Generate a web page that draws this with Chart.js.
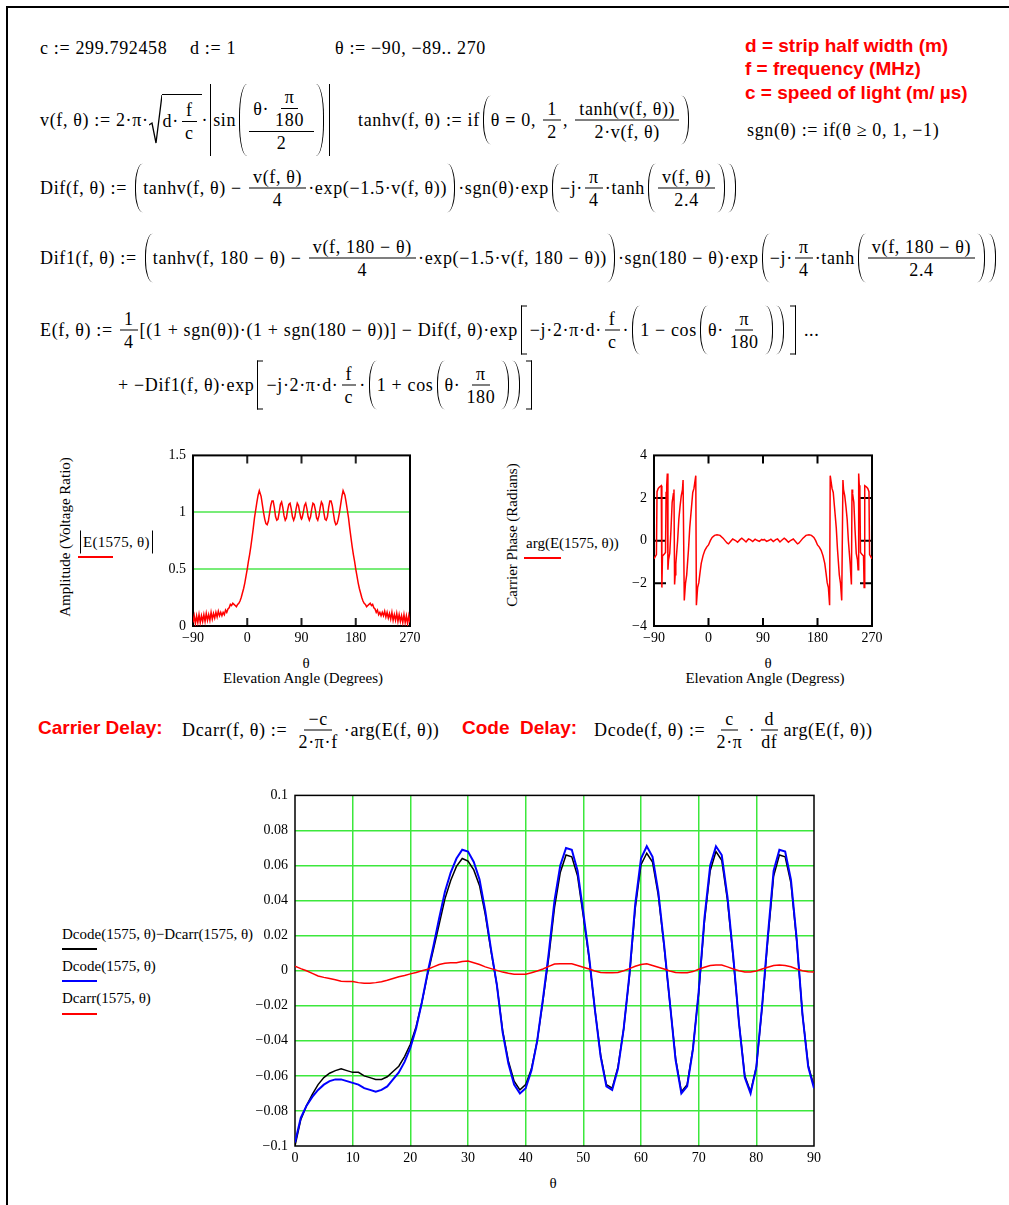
<!DOCTYPE html>
<html>
<head>
<meta charset="utf-8">
<script src="https://cdn.jsdelivr.net/npm/chart.js@4.4.0/dist/chart.umd.min.js"></script>
<style>
  body { margin: 0; background: #fff; }
  #page { position: relative; width: 1009px; height: 1205px; overflow: hidden; font-family: 'Liberation Serif', 'Times New Roman', serif; color: #000; }
  .frame { position: absolute; left: 6px; top: 6px; width: 1100px; height: 1300px; border-left: 2px solid #000; border-top: 2px solid #000; }
  canvas { position: absolute; }
  .eq { position: absolute; font-size: 18px; letter-spacing: 0.65px; white-space: nowrap; transform: translateY(-50%); display: flex; align-items: center; }
  .g { display: inline-flex; align-items: center; }
  .t { white-space: pre; }
  .fr { display: inline-flex; flex-direction: column; align-items: center; margin: 0 2px; }
  .fr .nu { border-bottom: 1.2px solid #000; padding: 0 4px 1px; line-height: 20px; display: flex; justify-content: center; }
  .fr .de { padding: 1px 4px 0; line-height: 20px; display: flex; justify-content: center; }
  .lp, .rp { align-self: stretch; width: 7px; margin-top: -3px; margin-bottom: -3px; }
  .lp { border-left: 1.3px solid #000; border-radius: 9px 0 0 9px / 50% 0 0 50%; margin-left: 3px; }
  .rp { border-right: 1.3px solid #000; border-radius: 0 9px 9px 0 / 0 50% 50% 0; margin-right: 3px; }
  .ab { align-self: stretch; border-left: 1.3px solid #000; margin: -3px 2px; }
  .lb, .rb { align-self: stretch; width: 5px; margin-top: -3px; margin-bottom: -3px; border: 1.3px solid #000; }
  .lb { border-right: 0; margin-left: 3px; margin-right: 3px; }
  .rb { border-left: 0; margin-left: 3px; margin-right: 3px; }
  .rad { align-self: stretch; width: 13px; margin-top: -2px; }
  .sqc { border-top: 1.3px solid #000; padding: 3px 2px 0 1px; margin-top: -2px; }
  .red { position: absolute; font-family: 'Liberation Sans', Arial, sans-serif; font-weight: bold; color: #ff0000; font-size: 19px; white-space: nowrap; transform: translateY(-50%); }
  .lbl { position: absolute; font-size: 15px; white-space: nowrap; transform: translate(-50%, -50%); }
  .lbl.l { transform: translateY(-50%); }
  .rot { transform: translate(-50%, -50%) rotate(-90deg); }
  .key { position: absolute; height: 2px; }
</style>
</head>
<body>
<div id="page">
  <div class="frame"></div>
  <div id="eqs"></div>

  <div class="red" style="left:745px;top:46px">d = strip half width (m)</div>
  <div class="red" style="left:745px;top:69px">f = frequency (MHz)</div>
  <div class="red" style="left:745px;top:93px">c = speed of light (m/ µs)</div>
  <div class="red" style="left:38px;top:728px">Carrier Delay:</div>
  <div class="red" style="left:462px;top:728px">Code&nbsp; Delay:</div>

  <!-- amplitude plot labels -->
  <div class="lbl rot" style="left:65px;top:537px">Amplitude (Voltage Ratio)</div>
  <div id="ampKey" class="eq" style="left:78px;top:542px;font-size:15px;letter-spacing:0.3px"></div>
  <div class="key" style="left:78px;top:556px;width:35px;background:#ff0000"></div>
  <div class="lbl" style="left:306px;top:663px">θ</div>
  <div class="lbl" style="left:303px;top:678px">Elevation Angle (Degrees)</div>

  <!-- phase plot labels -->
  <div class="lbl rot" style="left:512px;top:535px">Carrier Phase (Radians)</div>
  <div class="lbl l" style="left:526px;top:543px">arg(E(1575, θ))</div>
  <div class="key" style="left:524px;top:557px;width:37px;background:#ff0000"></div>
  <div class="lbl" style="left:768px;top:663px">θ</div>
  <div class="lbl" style="left:765px;top:678px">Elevation Angle (Degress)</div>

  <!-- delay plot labels -->
  <div class="lbl l" style="left:62px;top:934px">Dcode(1575, θ)−Dcarr(1575, θ)</div>
  <div class="key" style="left:62px;top:948px;width:35px;background:#000"></div>
  <div class="lbl l" style="left:62px;top:966px">Dcode(1575, θ)</div>
  <div class="key" style="left:62px;top:980px;width:35px;background:#0000ff"></div>
  <div class="lbl l" style="left:62px;top:998px">Dcarr(1575, θ)</div>
  <div class="key" style="left:62px;top:1013px;width:35px;background:#ff0000"></div>
  <div class="lbl" style="left:553px;top:1183px">θ</div>

  <canvas id="amp" width="275" height="210" style="left:150px;top:440px"></canvas>
  <canvas id="phase" width="275" height="210" style="left:612px;top:440px"></canvas>
  <canvas id="delay" width="600" height="400" style="left:235px;top:780px"></canvas>
</div>

<script>
// |E(1575, θ)|
const thetaAmp = [-90,-88,-86,-84,-82,-80,-78,-76,-74,-72,-70,-68,-66,-64,-62,-60,-58,-56,-54,-52,-50,-48,-46,-44,-42,-40,-38,-36,-34,-32,-30,-28,-26,-24,-22,-20,-18,-16,-14,-12,-10,-8,-6,-4,-2,
  0,2,4,6,8,10,12,14,16,18,20,21,23,25,27,29,31,33,35,37,39,41,43,45,47,49,51,53,55,57,59,61,63,65,67,69,71,73,75,77,79,81,83,85,87,89,90,
  91,93,95,97,99,101,103,105,107,109,111,113,115,117,119,121,123,125,127,129,131,133,135,137,139,141,143,145,147,149,151,153,155,157,159,160,162,164,166,168,170,172,174,176,178,
  180,182,184,186,188,190,192,194,196,198,200,202,204,206,208,210,212,214,216,218,220,222,224,226,228,230,232,234,236,238,240,242,244,246,248,250,252,254,256,258,260,262,264,266,268,270];
const ampE = [0.03,0.09,0.02,0.09,0.03,0.10,0.03,0.09,0.04,0.10,0.04,0.11,0.05,0.10,0.05,0.12,0.06,0.11,0.07,0.12,0.08,0.13,0.09,0.12,0.09,0.12,0.10,0.14,0.12,0.15,0.16,0.19,0.18,0.20,0.19,0.18,0.17,0.19,0.20,0.22,0.25,0.29,0.33,0.38,0.44,
  0.50,0.57,0.63,0.70,0.78,0.86,0.95,1.02,1.09,1.15,1.19,1.19,1.14,1.07,1.00,0.94,0.90,0.89,0.92,0.99,1.06,1.10,1.10,1.04,0.96,0.93,0.94,1.00,1.07,1.09,1.04,0.97,0.93,0.95,1.02,1.07,1.08,1.03,0.96,0.93,0.96,1.03,1.08,1.06,1.00,0.95,0.94,
  0.95,1.00,1.06,1.08,1.03,0.96,0.93,0.96,1.03,1.08,1.07,1.02,0.95,0.93,0.97,1.04,1.09,1.07,1.00,0.94,0.93,0.96,1.04,1.10,1.10,1.06,0.99,0.92,0.89,0.90,0.94,1.00,1.07,1.14,1.19,1.19,1.15,1.09,1.02,0.95,0.86,0.78,0.70,0.63,0.57,
  0.50,0.44,0.38,0.33,0.29,0.25,0.22,0.20,0.19,0.17,0.18,0.19,0.20,0.18,0.19,0.16,0.15,0.12,0.14,0.10,0.12,0.09,0.12,0.09,0.13,0.08,0.12,0.07,0.11,0.06,0.12,0.05,0.10,0.05,0.11,0.04,0.10,0.04,0.09,0.03,0.10,0.03,0.09,0.02,0.09,0.03];
const ampXTicks = [-90, 0, 90, 180, 270];
const ampXLabels = ['−90', '0', '90', '180', '270'];
const ampYTicks = [0, 0.5, 1, 1.5];
const ampYLabels = ['0', '0.5', '1', '1.5'];

// arg(E(1575, θ))
const thetaPhase = [-90,-88,-86,-85,-83,-81,-78,-77,-76,-73,-71,-70,-69,-68,-67,-66,-64,-62,-60,-58,-57,-56,-55,-54,-51,-49,-47,-45,-43,-42,-40,-38,-36,-33,-31,-28,-26,-24,-21,-20,-18,-16,-14,-12,-9,-6,-3,
  0,3,6,10,14,19,24,28,31,33,36,40,44,48,52,55,59,62,66,69,73,77,80,84,88,90,
  92,96,100,103,107,111,114,118,121,125,128,132,136,140,144,147,149,152,156,161,166,170,174,177,
  180,183,186,189,192,194,196,198,200,201,204,206,208,211,213,216,218,220,222,223,225,227,229,231,234,235,236,237,238,240,242,244,246,247,248,249,250,251,253,256,257,258,261,263,265,266,268,270];
const argE = [-0.85,-0.75,-0.65,2.30,2.45,2.52,2.58,-2.20,-0.72,-0.62,-0.55,2.26,2.60,3.15,-1.36,-0.90,-0.60,0.50,1.80,2.20,2.40,-2.05,-1.60,-1.10,0.00,1.00,1.60,2.10,2.40,2.85,-2.80,-2.00,-1.60,-0.40,0.60,1.60,2.26,2.45,3.05,-3.03,-2.20,-1.97,-1.50,-1.06,-0.70,-0.45,-0.30,
  -0.20,0.00,0.15,0.25,0.28,0.25,0.12,-0.02,-0.12,-0.15,-0.05,0.08,0.02,-0.07,0.05,0.12,0.02,-0.06,0.08,0.05,-0.04,0.07,0.02,-0.03,0.06,0.03,
  0.06,-0.03,0.02,0.07,-0.04,0.05,0.08,-0.06,0.02,0.12,0.05,-0.07,0.02,0.08,-0.05,-0.15,-0.12,-0.02,0.12,0.25,0.28,0.25,0.15,0.00,
  -0.20,-0.30,-0.45,-0.70,-1.06,-1.50,-1.97,-2.20,-3.03,3.05,2.45,2.26,1.60,0.60,-0.40,-1.60,-2.00,-2.80,2.85,2.40,2.10,1.60,1.00,0.00,-1.10,-1.60,-2.05,2.40,2.20,1.80,0.50,-0.60,-0.90,-1.36,3.15,2.60,2.26,-0.55,-0.62,-0.72,-2.20,2.58,2.52,2.45,2.30,-0.65,-0.75,-0.85];
const phaseYTicks = [-4, -2, 0, 2, 4];
const phaseYLabels = ['−4', '−2', '0', '2', '4'];

// Dcode, Dcarr and their difference for θ = 0..90
const thetaDelay = [0,1,2,3,4,5,6,7,8,9,10,11,12,13,14,15,16,17,18,19,20,21,22,23,24,25,26,27,28,29,30,31,32,33,34,35,36,37,38,39,40,41,42,43,44,45,
  46,47,48,49,50,51,52,53,54,55,56,57,58,59,60,61,62,63,64,65,66,67,68,69,70,71,72,73,74,75,76,77,78,79,80,81,82,83,84,85,86,87,88,89,90];
const dcodeMinusDcarr = [-0.100,-0.085,-0.077,-0.0705,-0.065,-0.061,-0.0585,-0.057,-0.056,-0.057,-0.058,-0.058,-0.060,-0.061,-0.062,-0.062,-0.0605,-0.0575,-0.0545,-0.049,
  -0.042,-0.032,-0.018,-0.002,0.012,0.0265,0.041,0.0515,0.0595,0.064,0.0625,0.0575,0.0485,0.032,0.011,-0.008,-0.034,-0.0515,-0.063,-0.068,
  -0.065,-0.056,-0.040,-0.017,0.0075,0.036,0.056,0.066,0.065,0.054,0.031,0.007,-0.022,-0.048,-0.065,-0.067,-0.055,-0.033,-0.003,0.0355,
  0.0605,0.067,0.062,0.043,0.014,-0.018,-0.050,-0.069,-0.065,-0.0445,-0.013,0.028,0.057,0.068,0.063,0.040,0.007,-0.030,-0.060,-0.069,
  -0.055,-0.021,0.018,0.054,0.066,0.065,0.050,0.017,-0.025,-0.054,-0.066];
const dcode = [-0.098,-0.084,-0.077,-0.072,-0.068,-0.065,-0.063,-0.062,-0.062,-0.063,-0.064,-0.065,-0.067,-0.068,-0.069,-0.068,-0.066,-0.062,-0.058,-0.052,
  -0.044,-0.033,-0.018,-0.001,0.014,0.030,0.045,0.056,0.064,0.069,0.068,0.062,0.052,0.034,0.012,-0.008,-0.035,-0.053,-0.065,-0.070,
  -0.067,-0.057,-0.040,-0.016,0.010,0.040,0.060,0.070,0.069,0.057,0.033,0.008,-0.022,-0.049,-0.066,-0.068,-0.056,-0.033,-0.002,0.038,
  0.064,0.071,0.065,0.045,0.015,-0.018,-0.051,-0.070,-0.066,-0.045,-0.012,0.030,0.060,0.071,0.066,0.042,0.008,-0.030,-0.061,-0.070,
  -0.055,-0.020,0.020,0.057,0.069,0.068,0.052,0.018,-0.025,-0.055,-0.067];
const dcarr = [0.0025,0.0012,0.0,-0.0015,-0.003,-0.0038,-0.0045,-0.0052,-0.006,-0.0062,-0.0062,-0.0068,-0.0072,-0.0072,-0.0068,-0.0063,-0.0055,-0.0045,-0.0035,-0.0027,
  -0.0018,-0.001,0.0,0.0008,0.0022,0.0035,0.0042,0.0045,0.0045,0.0052,0.0055,0.0045,0.0035,0.0022,0.0012,0.0002,-0.0008,-0.0015,-0.002,-0.002,
  -0.002,-0.0012,-0.0002,0.001,0.0025,0.0038,0.004,0.004,0.004,0.003,0.002,0.001,-0.0002,-0.001,-0.0012,-0.0012,-0.001,0.0,0.0012,0.0025,
  0.0035,0.004,0.003,0.002,0.001,-0.0002,-0.001,-0.0012,-0.0012,-0.0005,0.0008,0.002,0.003,0.0032,0.0032,0.0022,0.001,0.0,-0.0008,-0.0008,
  -0.0002,0.001,0.002,0.003,0.0032,0.003,0.0022,0.001,0.0,-0.0006,-0.0008];
const delayXTicks = [0,10,20,30,40,50,60,70,80,90];
const delayXLabels = ['0','10','20','30','40','50','60','70','80','90'];
const delayYTicks = [-0.1,-0.08,-0.06,-0.04,-0.02,0,0.02,0.04,0.06,0.08,0.1];
const delayYLabels = ['−0.1','−0.08','−0.06','−0.04','−0.02','0','0.02','0.04','0.06','0.08','0.1'];

// ---------- the worksheet formulas ----------
const g = (...p) => '<span class="g">' + p.map(s => s.startsWith('<') ? s : '<span class="t">' + s + '</span>').join('') + '</span>';
const fr = (n, d) => '<span class="fr"><span class="nu">' + g(n) + '</span><span class="de">' + g(d) + '</span></span>';
const par = (...p) => '<span class="g"><span class="lp"></span>' + g(...p) + '<span class="rp"></span></span>';
const brk = (...p) => '<span class="g"><span class="lb"></span>' + g(...p) + '<span class="rb"></span></span>';
const abs = (...p) => '<span class="g"><span class="ab"></span>' + g(...p) + '<span class="ab"></span></span>';
const sq = (...p) => '<span class="g" style="align-items:stretch"><svg class="rad" viewBox="0 0 13 50" preserveAspectRatio="none"><path d="M0 31 L3 29 L7 49 L13 1" fill="none" stroke="#000" stroke-width="1.3" vector-effect="non-scaling-stroke"/></svg><span class="sqc g">' + p.map(s => s.startsWith('<') ? s : '<span class="t">' + s + '</span>').join('') + '</span></span>';

const eqRows = [
  { x: 40, y: 48, h: g('c := 299.792458') },
  { x: 190, y: 48, h: g('d := 1') },
  { x: 335, y: 48, h: g('θ := −90, −89.. 270') },
  { x: 40, y: 120, h: g('v(f, θ) := 2·π·', sq('d·', fr('f', 'c')), '·', abs('sin', par(fr(g('θ·', fr('π', '180')), '2')))) },
  { x: 358, y: 120, h: g('tanhv(f, θ) := if', par('θ <b>=</b> 0, ', fr('1', '2'), ', ', fr('tanh(v(f, θ))', '2·v(f, θ)'))) },
  { x: 747, y: 130, h: g('sgn(θ) := if(θ ≥ 0, 1, −1)') },
  { x: 40, y: 188, h: g('Dif(f, θ) := ', par('tanhv(f, θ) − ', fr('v(f, θ)', '4'), '·exp(−1.5·v(f, θ))'), '·sgn(θ)·exp', par('−j·', fr('π', '4'), '·tanh', par(fr('v(f, θ)', '2.4')))) },
  { x: 40, y: 258, h: g('Dif1(f, θ) := ', par('tanhv(f, 180 − θ) − ', fr('v(f, 180 − θ)', '4'), '·exp(−1.5·v(f, 180 − θ))'), '·sgn(180 − θ)·exp', par('−j·', fr('π', '4'), '·tanh', par(fr('v(f, 180 − θ)', '2.4')))) },
  { x: 40, y: 330, h: g('E(f, θ) := ', fr('1', '4'), '[(1 + sgn(θ))·(1 + sgn(180 − θ))] − Dif(f, θ)·exp', brk('−j·2·π·d·', fr('f', 'c'), '·', par('1 − cos', par('θ·', fr('π', '180')))), ' ...') },
  { x: 118, y: 385, h: g('+ −Dif1(f, θ)·exp', brk('−j·2·π·d·', fr('f', 'c'), '·', par('1 + cos', par('θ·', fr('π', '180'))))) },
  { x: 182, y: 730, h: g('Dcarr(f, θ) := ', fr('−c', '2·π·f'), '·arg(E(f, θ))') },
  { x: 594, y: 730, h: g('Dcode(f, θ) := ', fr('c', '2·π'), '·', fr('d', 'df'), 'arg(E(f, θ))') }
];
document.getElementById('eqs').innerHTML = eqRows.map(r =>
  '<div class="eq" style="left:' + r.x + 'px;top:' + r.y + 'px">' + r.h + '</div>').join('');
document.getElementById('ampKey').innerHTML = abs('E(1575, θ)');

// ---------- charts ----------
Chart.defaults.font.family = "'Liberation Serif', 'Times New Roman', serif";
Chart.defaults.font.size = 14;
Chart.defaults.color = '#000';

const GREEN = '#3ce83c';

// box round the plot plus Mathcad style inner tick marks
const framePlugin = {
  id: 'frame',
  beforeDatasetsDraw(chart, args, o) {
    const { ctx, chartArea: a, scales } = chart;
    ctx.save();
    ctx.strokeStyle = o.tickColor || '#222';
    ctx.lineWidth = 2;
    (o.xTicks || []).forEach(v => {
      const px = scales.x.getPixelForValue(v);
      ctx.beginPath();
      ctx.moveTo(px, a.top); ctx.lineTo(px, a.top + o.xLen);
      ctx.moveTo(px, a.bottom); ctx.lineTo(px, a.bottom - o.xLen);
      ctx.stroke();
    });
    (o.yTicks || []).forEach(v => {
      const py = scales.y.getPixelForValue(v);
      ctx.beginPath();
      ctx.moveTo(a.left, py); ctx.lineTo(a.left + o.yLen, py);
      ctx.moveTo(a.right, py); ctx.lineTo(a.right - o.yLen, py);
      ctx.stroke();
    });
    ctx.strokeStyle = '#000';
    ctx.lineWidth = o.width || 2;
    ctx.strokeRect(a.left, a.top, a.right - a.left, a.bottom - a.top);
    ctx.restore();
  }
};

function axis(min, max, ticks, labels, fitSize, horizontal, gridColor, gridWidth) {
  return {
    type: 'linear', min: min, max: max,
    afterBuildTicks: s => { s.ticks = ticks.map(v => ({ value: v })); },
    afterFit: s => { if (horizontal) s.height = fitSize; else s.width = fitSize; },
    ticks: {
      autoSkip: false, maxRotation: 0, padding: horizontal ? 4 : 7,
      callback: (v, i) => labels[i]
    },
    border: { display: false },
    grid: {
      display: !!gridColor, drawTicks: false, lineWidth: gridWidth || 1.5,
      color: c => (c.tick && c.tick.value > min && c.tick.value < max) ? gridColor : 'rgba(0,0,0,0)'
    }
  };
}

function series(xs, ys, color, width, order) {
  return {
    data: xs.map((t, i) => ({ x: t, y: ys[i] })),
    borderColor: color, borderWidth: width, pointRadius: 0, tension: 0, fill: false, order: order
  };
}

new Chart(document.getElementById('amp'), {
  type: 'line',
  data: { datasets: [series(thetaAmp, ampE, '#ff0000', 1.5, 1)] },
  options: {
    responsive: false, animation: false, devicePixelRatio: 1,
    layout: { padding: { top: 10, right: 15, left: 0, bottom: 0 } },
    plugins: { legend: { display: false }, tooltip: { enabled: false },
      frame: { xTicks: [0, 90, 180], xLen: 8, yTicks: [], yLen: 0, width: 2 } },
    scales: {
      x: axis(-90, 270, ampXTicks, ampXLabels, 24, true, null),
      y: axis(0, 1.5, ampYTicks, ampYLabels, 43, false, '#78ec78', 2)
    }
  },
  plugins: [framePlugin]
});

new Chart(document.getElementById('phase'), {
  type: 'line',
  data: { datasets: [series(thetaPhase, argE, '#ff0000', 1.5, 1)] },
  options: {
    responsive: false, animation: false, devicePixelRatio: 1,
    layout: { padding: { top: 10, right: 15, left: 0, bottom: 0 } },
    plugins: { legend: { display: false }, tooltip: { enabled: false },
      frame: { xTicks: [0, 90, 180], xLen: 8, yTicks: [-2, 0, 2], yLen: 12, width: 2, tickColor: '#000' } },
    scales: {
      x: axis(-90, 270, ampXTicks, ampXLabels, 24, true, null),
      y: axis(-4, 4, phaseYTicks, phaseYLabels, 42, false, null)
    }
  },
  plugins: [framePlugin]
});

new Chart(document.getElementById('delay'), {
  type: 'line',
  data: {
    datasets: [
      series(thetaDelay, dcodeMinusDcarr, '#000000', 1.5, 3),
      series(thetaDelay, dcode, '#0000ff', 2, 2),
      series(thetaDelay, dcarr, '#ff0000', 1.5, 1)
    ]
  },
  options: {
    responsive: false, animation: false, devicePixelRatio: 1,
    layout: { padding: { top: 12, right: 21, left: 0, bottom: 0 } },
    plugins: { legend: { display: false }, tooltip: { enabled: false },
      frame: { xTicks: [], xLen: 0, yTicks: [], yLen: 0, width: 1.5 } },
    scales: {
      x: axis(0, 90, delayXTicks, delayXLabels, 34, true, GREEN),
      y: axis(-0.1, 0.1, delayYTicks, delayYLabels, 60, false, GREEN)
    }
  },
  plugins: [framePlugin]
});
</script>
</body>
</html>
